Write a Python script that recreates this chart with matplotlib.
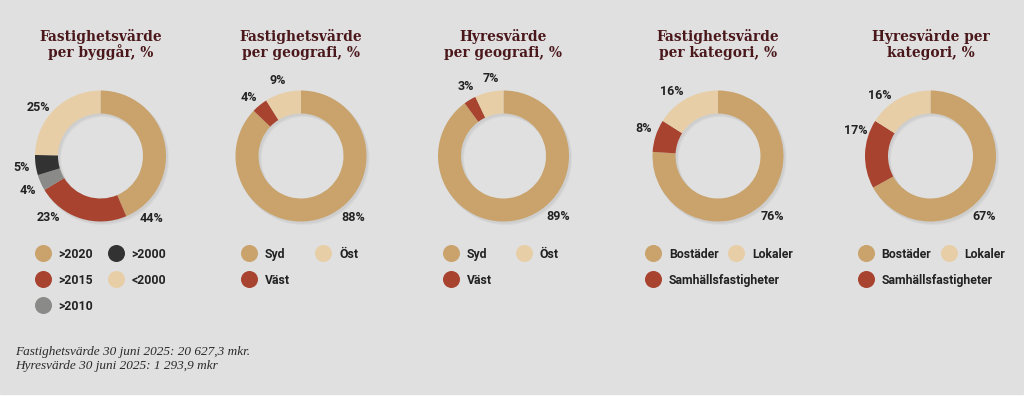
import numpy as np
import matplotlib.pyplot as plt

# ---- data ----
byggar_labels = [">2020", ">2015", ">2010", ">2000", "<2000"]
byggar_values = [44, 23, 4, 5, 25]

geografi_labels = ["Syd", "Väst", "Öst"]
fastighet_geografi = [88, 4, 9]
hyres_geografi = [89, 3, 7]

kategori_labels = ["Bostäder", "Samhällsfastigheter", "Lokaler"]
fastighet_kategori = [76, 8, 16]
hyres_kategori = [67, 17, 16]

titles = [
    ["Fastighetsvärde", "per byggår, %"],
    ["Fastighetsvärde", "per geografi, %"],
    ["Hyresvärde", "per geografi, %"],
    ["Fastighetsvärde", "per kategori, %"],
    ["Hyresvärde per", "kategori, %"],
]

footnotes = [
    "Fastighetsvärde 30 juni 2025: 20 627,3 mkr.",
    "Hyresvärde 30 juni 2025: 1 293,9 mkr",
]

# ---- colours ----
TAN = "#c9a36b"
RED = "#a8432f"
LIGHT = "#e7cea6"
DARK = "#323232"
GREY = "#8a8a88"
BG = "#e0e0e0"
TITLE_C = "#4a171a"
TEXT_C = "#222222"

charts = [
    (byggar_labels, byggar_values, [TAN, RED, GREY, DARK, LIGHT]),
    (geografi_labels, fastighet_geografi, [TAN, RED, LIGHT]),
    (geografi_labels, hyres_geografi, [TAN, RED, LIGHT]),
    (kategori_labels, fastighet_kategori, [TAN, RED, LIGHT]),
    (kategori_labels, hyres_kategori, [TAN, RED, LIGHT]),
]

# ---- layout (pixels, y from top) ----
W, H = 1024, 396
centers_x = [100.5, 301, 503.5, 718, 930.5]
center_y = 156
R_OUT, WIDTH = 65.5, 23
LABEL_R = 80
label_angles = [
    [-50, 229, 204, 187, 141],
    [-49, 131, 107],
    [-47, 118, 99],
    [-47, 159, 125],
    [-48, 160, 129],
]
legend_cols = [(-58, 15), (-52, 22), (-53, 20), (-65, 18), (-65, 18)]
legend_rows = [253, 279, 305]
title_baselines = [41, 56.5]


def py(y):
    return H - y


fig = plt.figure(figsize=(W / 100, H / 100), dpi=100, facecolor="white")
ax = fig.add_axes([0, 0, 1, 1])
ax.add_patch(plt.Rectangle((0, py(394)), 1023, 394, color=BG, zorder=0))

for k, (labels, values, colors) in enumerate(charts):
    cx, cy = centers_x[k], py(center_y)

    # soft drop shadow
    for off, a in [((2.5, -3.0), 0.035), ((1.5, -1.8), 0.045)]:
        ax.pie([1], center=(cx + off[0], cy + off[1]), radius=R_OUT + 0.5,
               colors=["black"], wedgeprops=dict(width=WIDTH + 1, linewidth=0, alpha=a),
               frame=True)

    ax.pie(values, center=(cx, cy), radius=R_OUT, colors=colors,
           startangle=90, counterclock=False,
           wedgeprops=dict(width=WIDTH, linewidth=0), frame=True)

    for v, ang in zip(values, label_angles[k]):
        t = np.deg2rad(ang)
        ax.text(cx + LABEL_R * np.cos(t), cy + LABEL_R * np.sin(t), f"{v}%",
                ha="center", va="center_baseline", fontsize=9, fontweight="bold",
                family="Roboto", color=TEXT_C)

    for line, yb in zip(titles[k], title_baselines):
        ax.text(cx, py(yb), line, ha="center", va="baseline", fontsize=9.9,
                fontweight="bold", family="DejaVu Serif", color=TITLE_C)

    # legend, filled column by column
    nrows = (len(labels) + 1) // 2
    for i, (lab, col) in enumerate(zip(labels, colors)):
        c, r = divmod(i, nrows)
        lx = cx + legend_cols[k][c]
        ly = py(legend_rows[r])
        ax.scatter([lx], [ly], s=150, color=col, linewidths=0, zorder=3)
        ax.text(lx + 16, ly, lab, ha="left", va="center_baseline", fontsize=8.8,
                fontweight="bold", family="Roboto", color=TEXT_C)

for j, note in enumerate(footnotes):
    ax.text(15, py(352 + 14.5 * j), note, ha="left", va="center", fontsize=9.5,
            style="italic", family="Liberation Serif", color="#2a2a2a")

ax.set_xlim(0, W)
ax.set_ylim(0, H)
ax.set_aspect("auto")
ax.axis("off")

fig.savefig("out.png", dpi=100, facecolor="white")
